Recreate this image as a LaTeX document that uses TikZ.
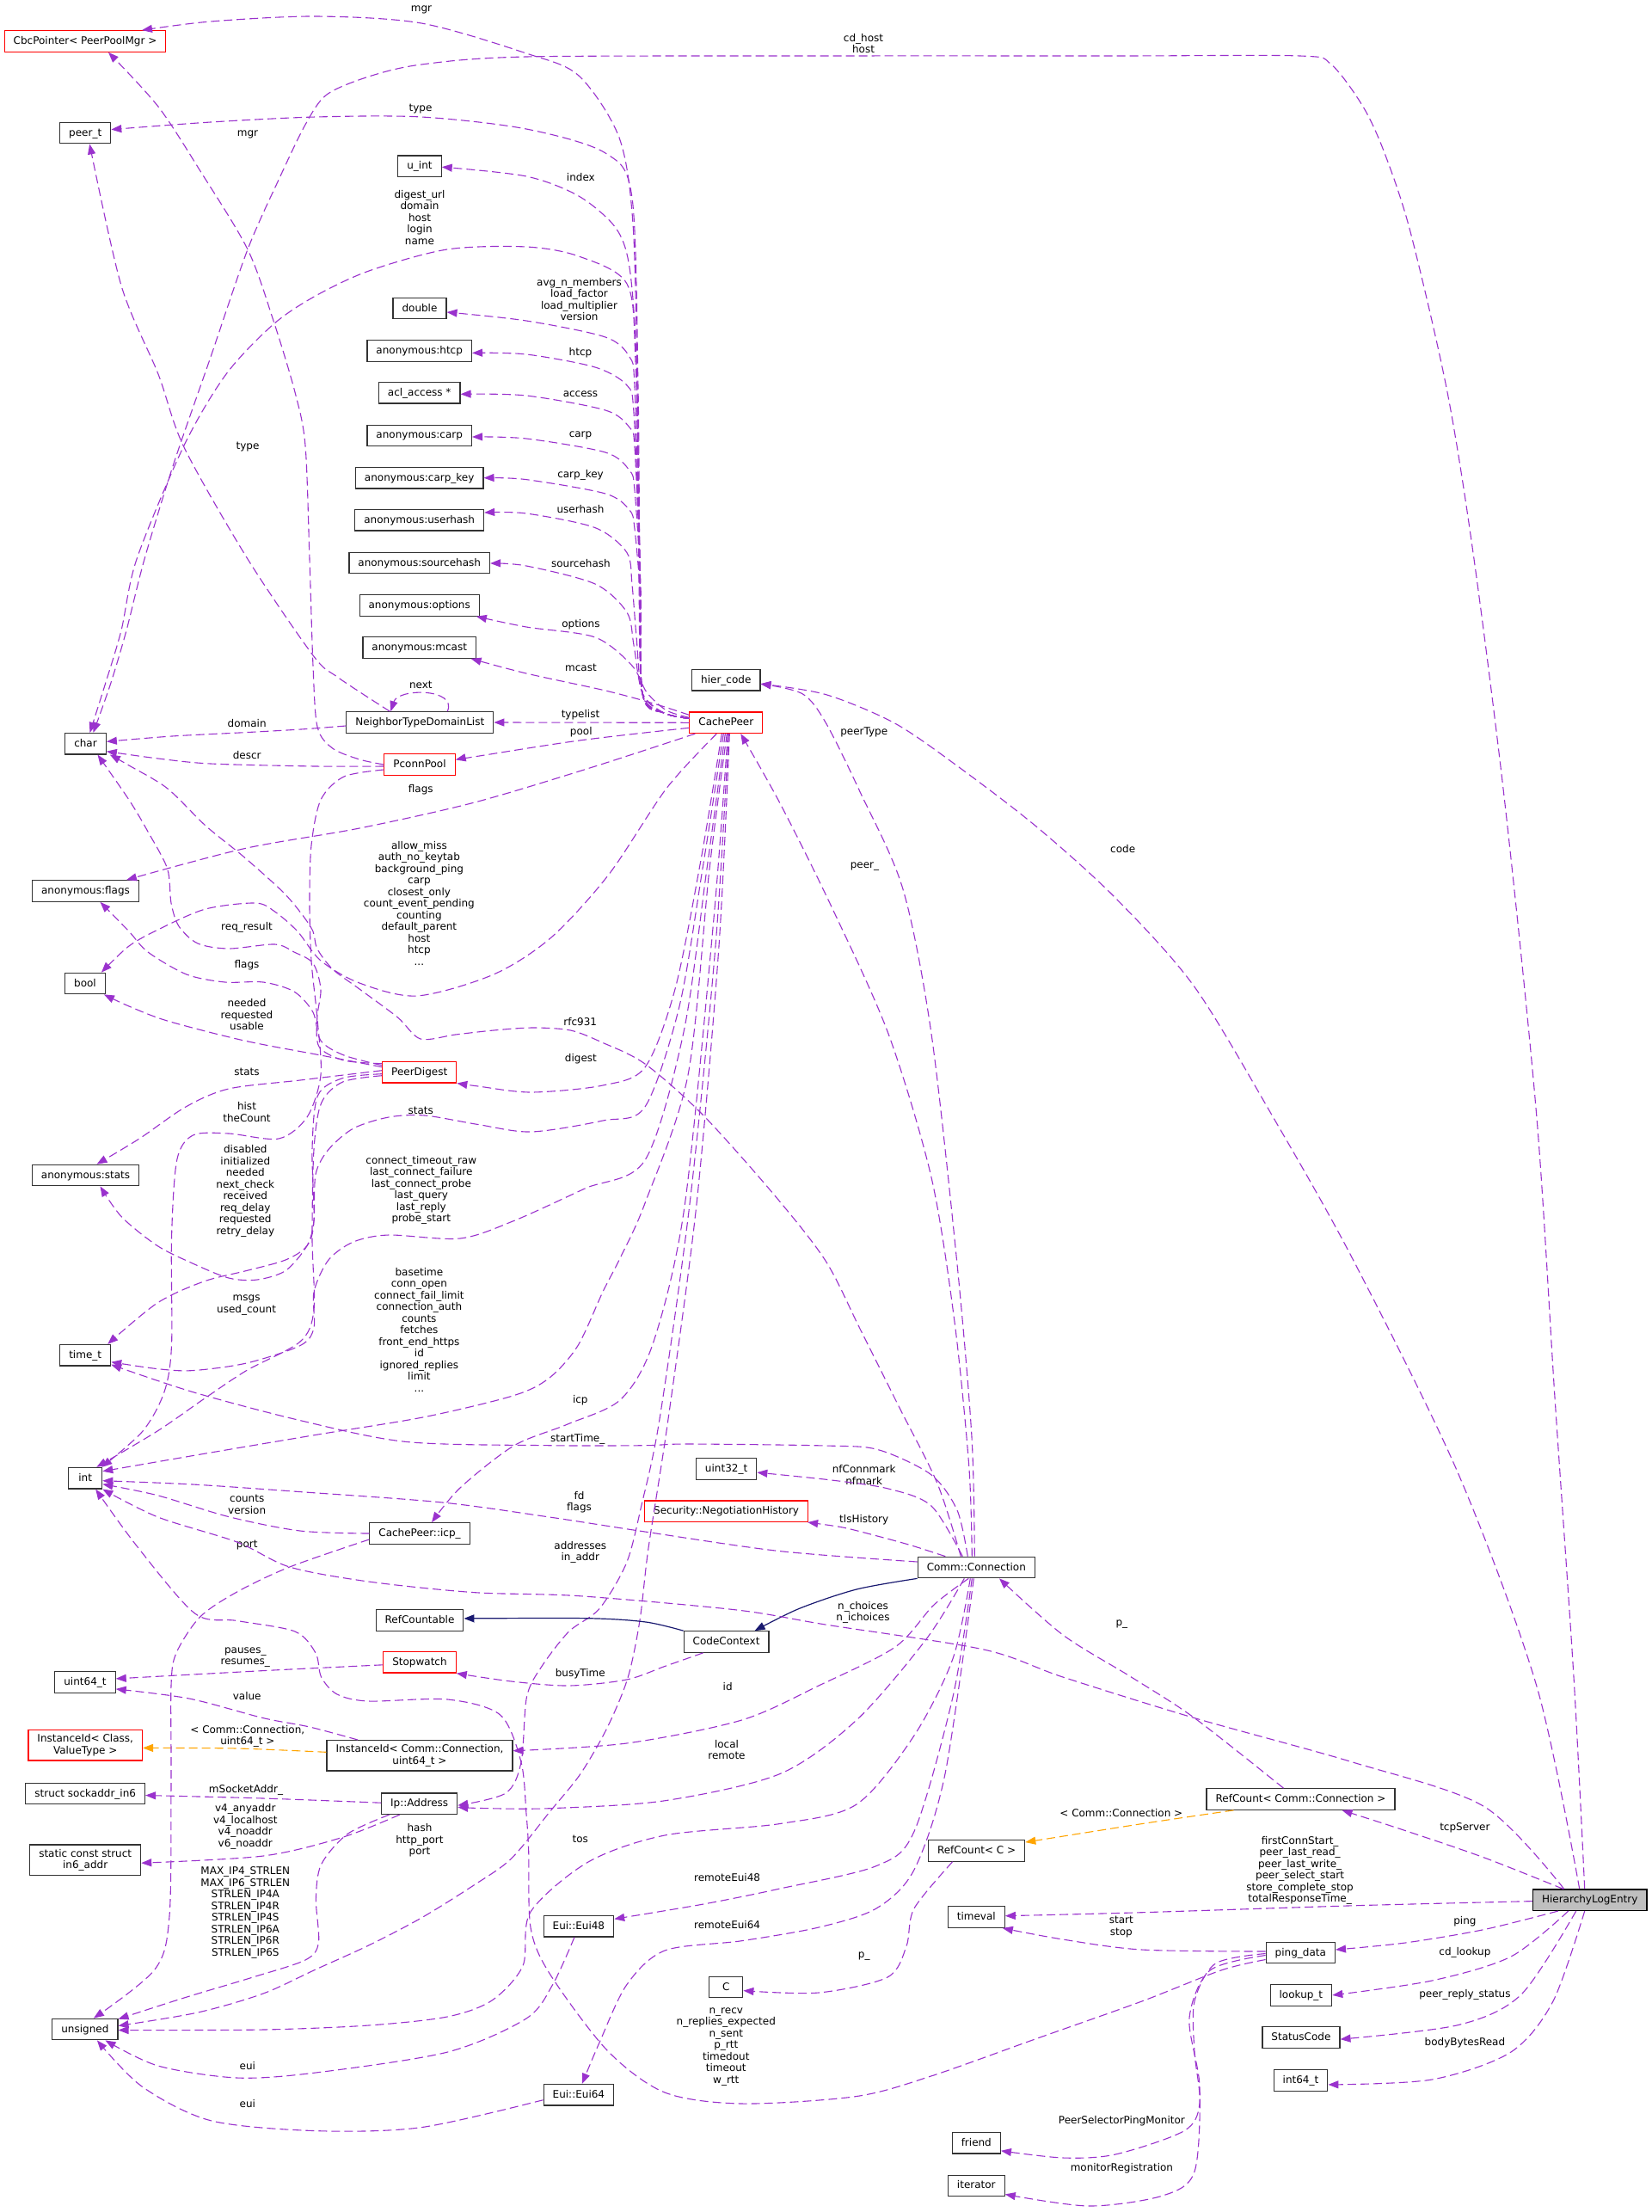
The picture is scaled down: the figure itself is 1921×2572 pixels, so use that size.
\documentclass[tikz,border=0pt]{standalone}
\usepackage{fontspec}
\setmainfont{DejaVu Sans}
\usetikzlibrary{arrows.meta}
\definecolor{ec}{HTML}{9A32CD}
\definecolor{oc}{HTML}{FFA500}
\definecolor{nc}{HTML}{191970}
\definecolor{hc}{HTML}{BFBFBF}
\newcommand\dxf{\fontsize{12}{13.5}\selectfont}
\begin{document}
\begin{tikzpicture}[x=1pt,y=-1pt,
 box/.style={draw=black!80,line width=1.2pt,fill=white,font=\dxf,inner xsep=10.5pt,inner ysep=0pt,minimum height=24.5pt,minimum width=39pt,text height=9.5pt,text depth=2.5pt},
 box2/.style={draw=black!80,line width=1.2pt,fill=white,font=\dxf,align=center,inner xsep=10.5pt,inner ysep=5pt,minimum height=24.5pt},
 rbox/.style={box,draw=red},
 rbox2/.style={box2,draw=red},
 hbox/.style={box,fill=hc,draw=black},
 lbl/.style={font=\dxf,align=center,inner sep=0pt},
 dep/.style={draw=ec,line width=1.1pt,dash pattern=on 10pt off 5pt,-{Triangle[length=12pt,width=9pt]}},
 tmpl/.style={draw=oc,line width=1.1pt,dash pattern=on 10pt off 5pt,-{Triangle[length=12pt,width=9pt]}},
 inh/.style={draw=nc,line width=1.2pt,-{Triangle[length=12pt,width=9pt]}},
 sm/.style={smooth,tension=0.5}
]
\fill[white] (0,0) rectangle (1921,2572);
\useasboundingbox (0,0) rectangle (1921,2572);

% ---------- column A ----------
\node[rbox] (cbc) at (99,48) {CbcPointer< PeerPoolMgr >};
\node[box] (peert) at (99.2,154.6) {peer\_t};
\node[box] (chr) at (99.5,864.7) {char};
\node[box] (aflags) at (99.5,1036) {anonymous:flags};
\node[box] (bool) at (99,1143.5) {bool};
\node[box] (astats) at (99.5,1366.5) {anonymous:stats};
\node[box] (timet) at (99.2,1575.7) {time\_t};
\node[box] (int) at (99.2,1718.7) {int};
\node[box] (uint64) at (99,1955.9) {uint64\_t};
\node[rbox2] (instC) at (99.2,2029.4) {InstanceId< Class,\\ ValueType >};
\node[box] (sock) at (99.2,2085.5) {struct sockaddr\_in6};
\node[box2] (in6) at (99.2,2162.7) {static const struct\\ in6\_addr};
\node[box] (unsig) at (98.9,2359.5) {unsigned};

% ---------- column B ----------
\node[box] (uint) at (488,193.2) {u\_int};
\node[box] (dbl) at (488,358.6) {double};
\node[box] (ahtcp) at (487.7,407.9) {anonymous:htcp};
\node[box] (acl) at (487.7,456.8) {acl\_access *};
\node[box] (acarp) at (487.7,506.4) {anonymous:carp};
\node[box] (ackey) at (487.7,555.7) {anonymous:carp\_key};
\node[box] (auh) at (487.7,604.8) {anonymous:userhash};
\node[box] (ash) at (487.7,654.5) {anonymous:sourcehash};
\node[box] (aopt) at (487.7,703.9) {anonymous:options};
\node[box] (amc) at (487.7,753) {anonymous:mcast};
\node[box] (ntdl) at (488.3,840) {NeighborTypeDomainList};
\node[rbox] (pconn) at (488,889) {PconnPool};
\node[rbox] (pdig) at (487.7,1246.7) {PeerDigest};
\node[box] (icp) at (488,1783) {CachePeer::icp\_};
\node[box] (rcable) at (488,1883.9) {RefCountable};
\node[rbox] (stopw) at (488,1932.8) {Stopwatch};
\node[box2] (instCC) at (488,2041.3) {InstanceId< Comm::Connection,\\ uint64\_t >};
\node[box] (ipa) at (487.7,2097.2) {Ip::Address};

% ---------- column C ----------
\node[box] (hier) at (844.3,790.7) {hier\_code};
\node[rbox] (cp) at (844.3,840.3) {CachePeer};
\node[box] (u32) at (844.6,1708.1) {uint32\_t};
\node[rbox] (sec) at (844.6,1757.2) {Security::NegotiationHistory};
\node[box] (cctx) at (844.6,1909) {CodeContext};
\node[box] (cC) at (844.3,2310.6) {C};
\node[box] (e48) at (672.9,2239.8) {Eui::Eui48};
\node[box] (e64) at (672.9,2435.7) {Eui::Eui64};

% ---------- column D ----------
\node[box] (conn) at (1135.3,1822.5) {Comm::Connection};
\node[box] (rcC) at (1135.6,2151.9) {RefCount< C >};
\node[box] (tv) at (1135.3,2229.1) {timeval};
\node[box] (frnd) at (1135.3,2491.8) {friend};
\node[box] (iter) at (1135.3,2541.4) {iterator};

% ---------- column E / F ----------
\node[box] (rcconn) at (1512.5,2092) {RefCount< Comm::Connection >};
\node[box] (ping) at (1512.3,2270.5) {ping\_data};
\node[box] (lk) at (1512.9,2319.9) {lookup\_t};
\node[box] (sc) at (1512.9,2369.1) {StatusCode};
\node[box] (i64) at (1512.5,2418.9) {int64\_t};
\node[hbox] (hle) at (1848.7,2209.2) {HierarchyLogEntry};

% ---------- edge labels ----------
\node[lbl] (t1) at (490,11) {mgr};
\node[lbl] (t2) at (1004,50.6) {cd\_host\\host};
\node[lbl] (t3) at (489,127) {type};
\node[lbl] (t4) at (288,156) {mgr};
\node[lbl] (t5) at (675.4,205.6) {index};
\node[lbl] (t6) at (488,253) {digest\_url\\domain\\host\\login\\name};
\node[lbl] (t7) at (673.5,348) {avg\_n\_members\\load\_factor\\load\_multiplier\\version};
\node[lbl] (t8) at (675,410) {htcp};
\node[lbl] (t9) at (675,458) {access};
\node[lbl] (t10) at (675,506.2) {carp};
\node[lbl] (t11) at (675,552.2) {carp\_key};
\node[lbl] (t12) at (675,592) {userhash};
\node[lbl] (t13) at (288,520) {type};
\node[lbl] (t14) at (675.4,655) {sourcehash};
\node[lbl] (t15) at (675.4,726) {options};
\node[lbl] (t16) at (675.4,776) {mcast};
\node[lbl] (t17) at (489.3,796) {next};
\node[lbl] (t18) at (675,831.6) {typelist};
\node[lbl] (t19) at (675.8,851) {pool};
\node[lbl] (t20) at (287.2,841.5) {domain};
\node[lbl] (t21) at (287.2,877.6) {descr};
\node[lbl] (t22) at (489.3,918.6) {flags};
\node[lbl] (t23) at (1004.7,851.5) {peerType};
\node[lbl] (t24) at (1305.7,986.6) {code};
\node[lbl] (t25) at (1005.4,1007.4) {peer\_};
\node[lbl] (t26) at (487.4,1050) {allow\_miss\\auth\_no\_keytab\\background\_ping\\carp\\closest\_only\\count\_event\_pending\\counting\\default\_parent\\host\\htcp\\...};
\node[lbl] (t27) at (287,1078.7) {req\_result};
\node[lbl] (t28) at (287,1122.6) {flags};
\node[lbl] (t29) at (287,1180) {needed\\requested\\usable};
\node[lbl] (t30) at (674.8,1187.7) {rfc931};
\node[lbl] (t31) at (675.4,1230.8) {digest};
\node[lbl] (t32) at (287,1246.6) {stats};
\node[lbl] (t33) at (287,1293) {hist\\theCount};
\node[lbl] (t34) at (489.3,1291) {stats};
\node[lbl] (t35) at (285.3,1385) {disabled\\initialized\\needed\\next\_check\\received\\req\_delay\\requested\\retry\_delay};
\node[lbl] (t36) at (489.8,1384) {connect\_timeout\_raw\\last\_connect\_failure\\last\_connect\_probe\\last\_query\\last\_reply\\probe\_start};
\node[lbl] (t37) at (286.6,1517.5) {msgs\\used\_count};
\node[lbl] (t38) at (487.4,1546) {basetime\\conn\_open\\connect\_fail\_limit\\connection\_auth\\counts\\fetches\\front\_end\_https\\id\\ignored\_replies\\limit\\...};
\node[lbl] (t39) at (674.8,1628) {icp};
\node[lbl] (t40) at (671.7,1673.5) {startTime\_};
\node[lbl] (t41) at (1004.7,1715) {nfConnmark\\nfmark};
\node[lbl] (t42) at (673.5,1746.5) {fd\\flags};
\node[lbl] (t43) at (287.2,1749.5) {counts\\version};
\node[lbl] (t44) at (1004.7,1766.8) {tlsHistory};
\node[lbl] (t45) at (287.2,1796.3) {port};
\node[lbl] (t46) at (674.8,1805) {addresses\\in\_addr};
\node[lbl] (t47) at (1003.5,1875) {n\_choices\\n\_ichoices};
\node[lbl] (t48) at (1304.4,1888.7) {p\_};
\node[lbl] (t49) at (285.3,1927) {pauses\_\\resumes\_};
\node[lbl] (t50) at (674.8,1946) {busyTime};
\node[lbl] (t51) at (846.2,1961.5) {id};
\node[lbl] (t52) at (287.2,1971.8) {value};
\node[lbl] (t53) at (287.8,2018.6) {< Comm::Connection,\\uint64\_t >};
\node[lbl] (t54) at (845,2034.6) {local\\remote};
\node[lbl] (t55) at (286,2081.7) {mSocketAddr\_};
\node[lbl] (t56) at (1303.8,2107.9) {< Comm::Connection >};
\node[lbl] (t57) at (285.3,2124) {v4\_anyaddr\\v4\_localhost\\v4\_noaddr\\v6\_noaddr};
\node[lbl] (t58) at (1703.4,2125.7) {tcpServer};
\node[lbl] (t59) at (674.8,2138.8) {tos};
\node[lbl] (t60) at (488,2140) {hash\\http\_port\\port};
\node[lbl] (t61) at (1511.6,2174.7) {firstConnStart\_\\peer\_last\_read\_\\peer\_last\_write\_\\peer\_select\_start\\store\_complete\_stop\\totalResponseTime\_};
\node[lbl] (t62) at (845.6,2182.8) {remoteEui48};
\node[lbl] (t63) at (285.3,2224) {MAX\_IP4\_STRLEN\\MAX\_IP6\_STRLEN\\STRLEN\_IP4A\\STRLEN\_IP4R\\STRLEN\_IP4S\\STRLEN\_IP6A\\STRLEN\_IP6R\\STRLEN\_IP6S};
\node[lbl] (t64) at (1703.4,2234) {ping};
\node[lbl] (t65) at (845.6,2237.6) {remoteEui64};
\node[lbl] (t66) at (1303.8,2240.4) {start\\stop};
\node[lbl] (t67) at (1703.4,2270.5) {cd\_lookup};
\node[lbl] (t68) at (1004.7,2274.5) {p\_};
\node[lbl] (t69) at (1703.4,2319.7) {peer\_reply\_status};
\node[lbl] (t70) at (1703.4,2375.6) {bodyBytesRead};
\node[lbl] (t71) at (844.3,2380) {n\_recv\\n\_replies\_expected\\n\_sent\\p\_rtt\\timedout\\timeout\\w\_rtt};
\node[lbl] (t72) at (287.8,2401.8) {eui};
\node[lbl] (t73) at (287.8,2445.8) {eui};
\node[lbl] (t74) at (1304.4,2465.7) {PeerSelectorPingMonitor};
\node[lbl] (t75) at (1304.4,2521.6) {monitorRegistration};

% ---------- CachePeer fan (upwards) ----------
\draw[dep] plot[sm] coordinates {([yshift=5pt]cp.west) (772,829) (747,806) (743,680) (741,450) (736,260) (720,160) (673,88) (612,62) (490,27) (367,19) (245,25) ([xshift=66pt]cbc.north)};
\draw[dep] plot[sm] coordinates {([yshift=5pt]cp.west) (772,829) (747,806) (744,680) (742,450) (735,230) (704,178) (612,150) (490,136) (367,136) (245,142) ([yshift=4pt]peert.east)};
\draw[dep] plot[sm] coordinates {([yshift=5pt]cp.west) (772,829) (747,806) (744,650) (740,420) (732,311) (716,265) (673,228) (612,205) ([yshift=-1pt]uint.east)};
\draw[dep] plot[sm] coordinates {([yshift=5pt]cp.west) (772,829) (747,806) (744,650) (739,420) (729,330) (673,298) (612,287) (520,290) (429,315) (367,344) (318,377) (263,435) (214,518) (159,650) (141,733) (122.5,795) ([xshift=5pt]chr.north)};
\draw[dep] plot[sm] coordinates {([yshift=5pt]cp.west) (772,829) (747,806) (744,650) (738,450) (732,415) (704,392) (612,373) ([yshift=-4.4pt]dbl.east)};
\draw[dep] plot[sm] coordinates {([yshift=5pt]cp.west) (772,829) (747,806) (744,650) (737,480) (729,448) (692,427) (612,412) ([yshift=-2.5pt]ahtcp.east)};
\draw[dep] plot[sm] coordinates {([yshift=5pt]cp.west) (772,829) (747,806) (744,660) (738,520) (732,497) (704,477) (612,460) ([yshift=-1.5pt]acl.east)};
\draw[dep] plot[sm] coordinates {([yshift=5pt]cp.west) (772,829) (747,806) (745,680) (738,570) (732,547) (704,526) (612,510) ([yshift=-1.6pt]acarp.east)};
\draw[dep] plot[sm] coordinates {([yshift=5pt]cp.west) (772,829) (747,806) (745,700) (738,615) (732,593) (704,574) (612,557.6) (ackey.east)};
\draw[dep] plot[sm] coordinates {([yshift=5pt]cp.west) (772,829) (747,806) (740,740) (735,680) (729,642.6) (692,613.6) (612,597) ([yshift=8.8pt]auh.east)};
\draw[dep] plot[sm] coordinates {([yshift=5pt]cp.west) (772,829) (747,806) (737,750) (729,712) (692,679) (612,658) ([yshift=-0.5pt]ash.east)};
\draw[dep] plot[sm] coordinates {([yshift=6pt]cp.west) (775,826) (752,805) (735,774) (692,741) (612,729) ([xshift=-4pt]aopt.south east)};
\draw[dep] plot[sm] coordinates {([yshift=9pt]cp.west) (760,818) (704,803) (612,783) ([xshift=-6.5pt]amc.south east)};
\draw[dep] (cp.west) -- (ntdl.east);
\draw[dep] plot[sm] coordinates {([yshift=-6pt]cp.west) (673.6,861) (551,880) ([yshift=5.6pt]pconn.east)};

% ---------- CachePeer (downwards) ----------
\draw[dep] plot[sm] coordinates {([xshift=-36pt]cp.south) (685.7,893) (551.8,933) (418,963) (284,986.7) ([xshift=-15pt]aflags.north east)};
\draw[dep] plot[sm] coordinates {([xshift=-11pt]cp.south) (775,916.7) (708,1016.7) (641,1090) (574,1133) (485,1158) (418,1143) (373,1117) (346,1083) (319.6,1060) (297,1050) (239,1057) (185.7,1080) (150,1100) ([xshift=-5pt]bool.north east)};
\draw[dep] plot[sm] coordinates {([xshift=-5pt]cp.south) (815,1000) (785,1150) (750,1241) (701,1262) (618,1270) (556,1263) (pdig.south east)};
\draw[dep] plot[sm] coordinates {([xshift=-3pt]cp.south) (817,1010) (790,1170) (750,1287) (701,1303) (618,1316) (556,1307.5) (494,1297) (452,1299) (411,1312) (382,1336.6) (367,1365.6) (365,1419.5) (357,1448.5) (332,1477.5) (299,1488) (266,1486) (224,1469) (183,1448.5) (141.5,1415) ([xshift=17pt]astats.south)};
\draw[dep] plot[sm] coordinates {([xshift=-1pt]cp.south) (822,1010) (795,1200) (750,1349) (680,1382) (597.5,1419.5) (535,1440) (452,1436) (411,1444) (382,1465) (365,1502) (365,1544) (349,1564.6) (286.6,1585) (224,1593.6) (183,1591.6) ([yshift=-8pt]timet.east)};
\draw[dep] plot[sm] coordinates {([xshift=1pt]cp.south) (825,1010) (800,1250) (750,1399) (722,1461) (701,1502) (672,1564.6) (639,1602) (597.5,1622.6) (494,1647.5) (369.5,1668) (245,1689) ([yshift=8pt]int.east)};
\draw[dep] plot[sm] coordinates {([xshift=2pt]cp.south) (830,1068) (796,1403) (760,1560) (722,1627) (660,1656) (597.5,1681) (535,1730) ([xshift=14pt]icp.north)};
\draw[dep] plot[sm] coordinates {([xshift=3pt]cp.south) (832,1100) (802,1400) (767,1650) (746,1750) (728.6,1817) (697,1870.5) (661.6,1897) (630,1937.5) (612.5,1973) (606,2049) (588,2085) ([yshift=-2pt]ipa.east)};
\draw[dep] plot[sm] coordinates {([xshift=4pt]cp.south) (836,1100) (810,1400) (777,1650) (754,1800) (744,1884) (730,1951) (706,2009) (675,2062.5) (639,2107) (594.6,2161) (551,2192) (490,2230) (428.6,2262) (367,2290) (306,2318) (230,2340) ([yshift=4pt]unsig.east)};

% ---------- Comm::Connection ----------
\draw[dep] plot[sm] coordinates {([xshift=-5pt]conn.north) (1126.7,1704) (1110,1537) (1083,1369) (1033,1202) (967,1054.5) (907,934) ([xshift=-26pt]cp.south east)};
\draw[dep] plot[sm] coordinates {([xshift=-2pt]conn.north) (1130,1671) (1113,1470) (1083,1202) (1050,1034) (1000,920.6) (960,840) (933,806.7) ([yshift=-4.5pt]hier.east)};
\draw[dep] plot[sm] coordinates {([xshift=-18pt]conn.north) (1090,1725) (1045,1635) (1000,1545) (960,1466) (900,1389) (817,1296) (750,1237) (700,1212) (663.4,1198) (619,1195) (574,1198) (529.5,1203) (489,1208) (462.5,1183) (418,1150) (386.6,1126.7) (368.8,1103) (364,1083) (351,1063) (328.6,1036.7) (284,996.7) (239,960) (194.6,916.7) (150,890) ([xshift=4pt]chr.south east)};
\draw[dep] plot[sm] coordinates {([xshift=-10pt]conn.north) (1113,1756) (1082.6,1714.6) (1021,1685.6) (960,1681) (800,1679) (750,1680.7) (639,1680.7) (473,1676.5) (349,1651.6) (224,1618.5) ([yshift=-11pt]timet.east)};
\draw[dep] plot[sm] coordinates {([xshift=-16pt]conn.north) (1083,1751) (1033,1731) (967,1721) ([yshift=-4pt]u32.east)};
\draw[dep] plot[sm] coordinates {([xshift=-36pt]conn.north) (1060,1797) (1019,1785.7) (980,1776) ([xshift=-1pt]sec.south east)};
\draw[dep] plot[sm] coordinates {([yshift=6.5pt]conn.west) (907,1803.6) (750,1781) (639,1764) (514.6,1747) (349,1734.6) (224,1726) ([yshift=-3pt]int.east)};
\draw[dep] plot[sm] coordinates {([xshift=-9pt]conn.south) (1086,1866) (1041,1915) (952,1960) (862.5,2000) (728.6,2027) ([yshift=5.6pt]instCC.east)};
\draw[dep] plot[sm] coordinates {([xshift=-14pt]conn.south) (1077,1906) (996,2000) (907,2062.5) (773,2093.75) (639,2102.7) (560,2102.5) ([yshift=-4pt]ipa.east)};
\draw[dep] plot[sm] coordinates {([xshift=-7pt]conn.south) (1108,1928.6) (1063,2018) (996,2098) (907,2120.5) (773,2134) (684,2165) (617,2223) (608,2285.7) (572,2326) (520,2345) (428.6,2355) (306,2360) ([yshift=-1pt]unsig.east)};
\draw[dep] plot[sm] coordinates {([xshift=-5pt]conn.south) (1108,1973) (1063,2129.5) (1019,2169.6) (907,2196) (818,2214) ([yshift=8.5pt]e48.east)};
\draw[dep] plot[sm] coordinates {([xshift=-3pt]conn.south) (1099,2062.5) (1063,2174) (1019,2219) (952,2241) (862.5,2256.7) (773,2268) (728.6,2308) (697,2375) ([xshift=4pt]e64.north)};
\draw[inh] plot[sm] coordinates {(conn.south west) (996,1848) (929,1870.5) ([xshift=33pt]cctx.north)};
\draw[inh] plot[sm] coordinates {(cctx.north west) (751,1886) (684,1881.7) ([yshift=2pt]rcable.east)};
\draw[dep] plot[sm] coordinates {([xshift=-27pt]cctx.south) (773,1937.5) (728.6,1953) (661.6,1960) (594.6,1955) (stopw.south east)};

% ---------- column B small edges ----------
\draw[dep] plot[sm] coordinates {([yshift=-3pt]stopw.west) (306,1942.6) ([yshift=4pt]uint64.east)};
\draw[dep] plot[sm] coordinates {([xshift=-72pt]instCC.north) (360,2008) (306,1997.6) (220,1975) ([yshift=-8pt]uint64.east)};
\draw[tmpl] plot[sm] coordinates {([yshift=4pt]instCC.west) (275.6,2033) ([yshift=-3pt]instC.east)};
\draw[dep] plot[sm] coordinates {([yshift=1pt]ipa.west) (306,2091) ([yshift=-2pt]sock.east)};
\draw[dep] plot[sm] coordinates {([xshift=-23pt]ipa.south) (398,2136.4) (306,2158) ([yshift=-3.5pt]in6.east)};
\draw[dep] plot[sm] coordinates {([xshift=-35pt]ipa.south) (404,2132.5) (373.5,2168) (367.4,2208) (370.4,2259) (355,2279) (294,2299) (214,2323) ([yshift=-1pt]unsig.north east)};
\draw[dep] plot[sm] coordinates {([yshift=-7pt]icp.west) (336.8,1822) (275.6,1851) (232.7,1880) (205,1922) (199,1960) (199,2069) (197,2228) (180,2290) ([xshift=10pt]unsig.north)};
\draw[dep] plot[sm] coordinates {(icp.west) (349,1780) (266,1763.6) (183,1738.7) ([yshift=-7pt]int.east)};
\draw[dep] plot[sm] coordinates {([xshift=-5pt]e48.south) (643,2307) (612,2347) (520.5,2386) (367,2410) (275.6,2416) (183.7,2402) ([xshift=-15pt]unsig.south east)};
\draw[dep] plot[sm] coordinates {([yshift=-6pt]e64.west) (490,2473.6) (367,2477.6) (245,2465.7) (165,2426) ([xshift=14pt]unsig.south)};

% ---------- RefCount / HierarchyLogEntry ----------
\draw[dep] plot[sm] coordinates {([xshift=-28pt]rcC.south) (1063,2219) (1054,2263) (1032,2299) (952,2317) ([yshift=-4pt]cC.east)};
\draw[dep] plot[sm] coordinates {([xshift=-20pt]rcconn.north) (1389,1997.6) (1315.5,1950) (1236,1901) ([xshift=-42pt]conn.south east)};
\draw[tmpl] plot[sm] coordinates {([xshift=-78pt]rcconn.south) (1327.7,2120.6) ([yshift=-3pt]rcC.north east)};
\draw[dep] plot[sm] coordinates {([xshift=-31pt]hle.north) (1726,2160) (1634,2128.5) ([xshift=48pt]rcconn.south)};
\draw[dep] plot[sm] coordinates {([yshift=-1.4pt]hle.west) (1573,2215.8) (1327.7,2223.7) ([yshift=1.4pt]tv.east)};
\draw[dep] plot[sm] coordinates {([xshift=-37pt]hle.south) (1726,2243.5) (1634,2259) ([yshift=3.5pt]ping.east)};
\draw[dep] plot[sm] coordinates {([xshift=-25pt]hle.south) (1757,2275) (1665,2303) (lk.east)};
\draw[dep] plot[sm] coordinates {([xshift=-16pt]hle.south) (1769,2319) (1695.5,2354.6) ([yshift=-2pt]sc.east)};
\draw[dep] plot[sm] coordinates {([xshift=-6pt]hle.south) (1806,2326.8) (1757,2386) (1665,2418) ([yshift=-5pt]i64.east)};
\draw[dep] plot[sm] coordinates {([yshift=1.5pt]ping.west) (1327.7,2267) (1235.8,2255) ([xshift=-3pt]tv.south east)};
\draw[dep] plot[sm] coordinates {([yshift=-1pt]ping.west) (1413.5,2283) (1389,2327) (1389,2386) (1395,2446) (1377,2477.6) (1297,2505) (1236,2509) ([yshift=-9pt]frnd.east)};
\draw[dep] plot[sm] coordinates {([yshift=-3pt]ping.west) (1407,2291) (1383,2346.7) (1395,2426) (1389,2525) (1352,2553) (1266,2565) ([yshift=-10pt]iter.east)};
\draw[dep] plot[sm] coordinates {([yshift=-8pt]ping.west) (1419.7,2291) (1327.7,2327) (1205,2370.5) (1082.6,2414) (996,2437.5) (862.5,2446) (773,2433) (706,2384) (639,2294.6) (617,2241) (614.7,2152) (612,2109) (606,2049) (581.7,1994) (520.5,1976) (428.6,1978) (392,1970) (373.6,1950) (367,1922) (343,1897) (275.6,1884.5) (226.6,1876) (159,1797.5) ([xshift=12pt]int.south)};
\draw[dep] plot[sm] coordinates {([xshift=-30pt]hle.north) (1726,2100.7) (1573,2049) (1389,1997.6) (1236,1950) (1144,1918) (960,1889) (857,1872) (673.6,1855.7) (551,1851.6) (428.6,1839) (336.8,1822) (275.6,1793) (183.7,1764) (int.south east)};
\draw[dep] plot[sm] coordinates {([xshift=-12pt]hle.north) (1787,1961) (1695.5,1713) (1573,1464) (1481,1300) (1389,1147.5) (1297,1044) (1205,961) (1113,890.5) (1040,840.7) (960,807.5) ([yshift=-4.5pt]hier.east)};
\draw[dep] plot[sm] coordinates {([xshift=-6pt]hle.north) (1830,1950) (1808,1625) (1787,1300) (1750.6,940) (1714,650) (1683,456) (1640,269.5) (1610,178) (1585,124) (1548,75) (1511.6,65) (1300,65) (960,65) (612,66) (490,75) (429,89) (380,110) (355,145) (325,207) (288,290) (245,415) (202,539) (168,650) (147,733) (128.6,795) ([xshift=9pt]chr.north)};

% ---------- PconnPool / NeighborTypeDomainList / PeerDigest ----------
\draw[dep] plot[sm] coordinates {(pconn.west) (418,883) (386.6,870) (369,845) (364,774) (360,650) (355,518) (343,456) (318,373) (288,290) (233,199) (184,124) ([xshift=27pt]cbc.south)};
\draw[dep] plot[sm] coordinates {([xshift=-35pt]ntdl.north) (392,787) (364,762) (288,650) (214,520) (184,435) (141,332) ([xshift=5pt]peert.south)};
\draw[dep] ([xshift=32pt]ntdl.north) .. controls (532,800) and (463,800) .. ([xshift=-34pt]ntdl.north);
\draw[dep] plot[sm] coordinates {([yshift=-4pt]ntdl.west) (350,848) (288,851.5) (200,856) ([yshift=2.4pt]chr.east)};
\draw[dep] plot[sm] coordinates {([yshift=-2pt]pconn.west) (367,891) (245,888) (184,882) ([yshift=-9pt]chr.east)};
\draw[dep] plot[sm] coordinates {([yshift=6pt]pdig.west) (373,1227) (284,1210) (194.6,1187) (150,1170) ([xshift=-2pt]bool.south east)};
\draw[dep] plot[sm] coordinates {([yshift=8pt]pdig.west) (400,1227) (373,1210) (364,1177) (342,1153) (306,1142) (261.6,1142) (217,1133) (172,1107) (150,1083) ([xshift=17pt]aflags.south)};
\draw[dep] plot[sm] coordinates {([yshift=10pt]pdig.west) (400,1233) (371,1217) (368.8,1183) (373,1150) (364,1120) (342,1107) (319.6,1098) (266,1103) (230,1097) (208,1077) (199,1050) (194.6,1010) (172,967) (150,930) ([xshift=14pt]chr.south)};
\draw[dep] plot[sm] coordinates {([yshift=2pt]pdig.west) (349,1256) (266,1266) (216,1287) (162,1324) ([xshift=13pt]astats.north)};
\draw[dep] plot[sm] coordinates {([yshift=-6pt]pconn.west) (400,903) (373,930) (362,983) (360,1050) (362,1117) (368.8,1183) (373,1250) (357,1299) (324,1324) (266,1318) (224.4,1320) (205.7,1349) (199.5,1440) (199.5,1564.6) (191,1618.5) (166,1664) ([xshift=-1pt]int.north east)};
\draw[dep] plot[sm] coordinates {([yshift=-4pt]pdig.west) (398.5,1258) (373.6,1282.7) (365,1336.6) (363,1440) (365,1523) (349,1560) (286.6,1593.6) (236.8,1626.8) (183,1664) ([xshift=-7pt]int.north east)};
\draw[dep] plot[sm] coordinates {([yshift=-2pt]pdig.west) (398.5,1253.6) (369.5,1274) (363,1336.6) (365,1419.5) (357,1448.5) (332,1465) (286.6,1477.5) (237,1490) (183,1515) ([xshift=26pt]timet.north)};
\end{tikzpicture}
\end{document}
